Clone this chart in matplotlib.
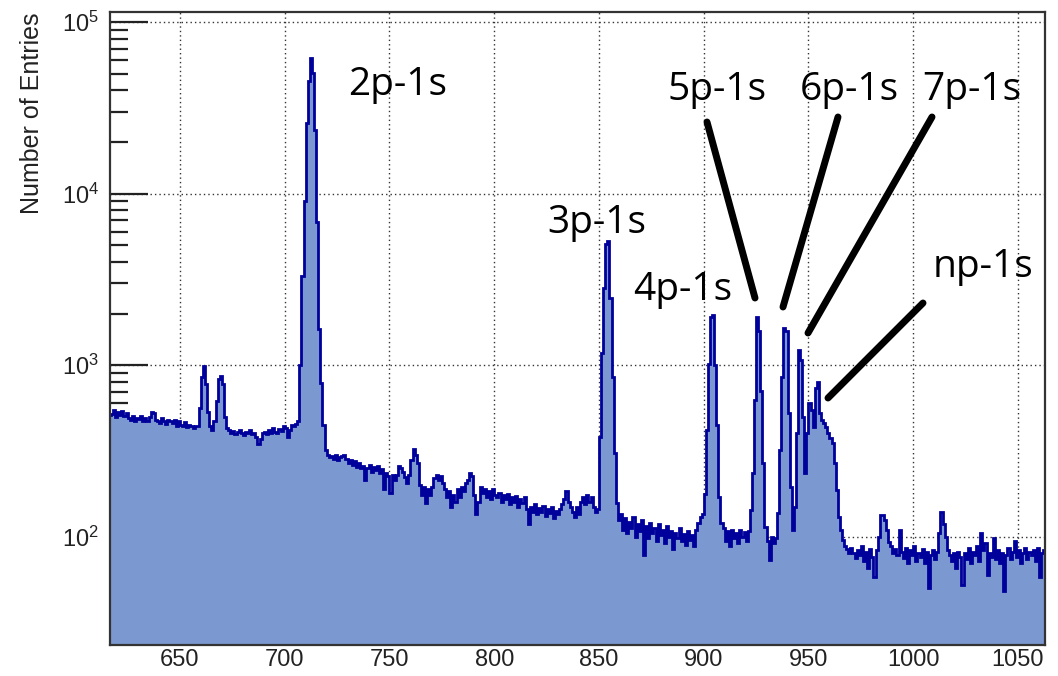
import numpy as np
import matplotlib
matplotlib.use("Agg")
import matplotlib.pyplot as plt
from matplotlib.ticker import LogLocator, MultipleLocator, NullFormatter

plt.rcParams['font.family'] = ['Liberation Sans', 'DejaVu Sans']
plt.rcParams['mathtext.fontset'] = 'custom'
plt.rcParams['mathtext.rm'] = 'Liberation Sans'
plt.rcParams['mathtext.it'] = 'Liberation Sans'
plt.rcParams['mathtext.default'] = 'regular'

# ---------------- data (1-unit bins, first bin starts at 616) ----------------
first_bin = 616

bg_low = [510,
          520, 545, 500, 530, 510, 540, 505, 525, 495,
          480, 505, 470, 495, 485, 505, 470, 490, 475, 500,
          530, 525, 480, 470, 460, 490, 470, 455, 480, 470,
          460, 480, 445, 470, 450, 440, 465, 435, 450, 440,
          430, 445, 440]                                   # 616-658
small_peaks = [560, 850, 995, 780, 530, 440, 420, 470, 620, 835,
               870, 780, 500, 430]                          # 659-672
bg_pre2p = [420, 400, 415, 395, 410, 420, 400, 390, 410, 400,
            420, 395, 405, 380, 345, 370, 400, 410, 395, 420,
            405, 430, 410, 400, 425, 415, 440, 430, 380, 420,
            450, 440, 455]                                  # 673-705
peak_2p = [470, 1000, 3300, 9100, 25800, 45600, 61500, 50400, 23500, 6800,
           1630, 785, 447, 320, 300, 290]                   # 706-721
bg_mid = [295, 285, 300, 280, 290,
          295, 300, 285,
          270, 280, 262, 275, 255, 270, 250,
          260, 215, 250, 262, 240, 255, 245, 258, 235, 248, 190,
          235, 225, 180, 230, 215, 228,
          258, 250, 240, 222, 205,
          230, 280, 325, 300, 270,
          200, 175, 195, 158, 190, 175, 195,
          220, 228, 215, 225, 205,
          190, 170, 185, 150, 175, 160, 190, 170,
          195, 185, 205, 215, 235, 225,
          175, 135, 160,
          195, 180, 190, 170, 185, 165, 190, 175,
          170, 180, 160, 175, 165, 178, 155, 170, 160, 172, 150, 165, 158, 170, 145,
          118, 150, 140, 155, 135, 148, 140, 152, 132, 145, 138, 150, 128, 142, 135, 145,
          155, 165, 185, 160, 150, 140,
          130, 150, 135, 160, 170, 155, 175, 160, 170, 150, 140, 145]  # 722-849
peak_3p = [380, 1170, 2820, 5100, 5300, 2470, 850, 306, 157, 125]  # 850-859
bg_post3p = [135, 110, 128, 105, 122, 112, 130, 100, 118, 108, 125,
             78, 115, 98, 120, 105, 112, 95, 118, 102, 110,
             92, 115, 100, 108, 85, 105, 98, 112, 95, 104,
             90, 108, 96, 102, 88, 110, 120]                # 860-897
peaks_np = [130, 135, 178, 417, 1020, 1900, 1950, 1000, 450, 170, 120,
            112, 95, 108, 88, 110, 98, 105, 92, 110, 100, 106, 95, 108,
            143, 234, 623, 1900, 1590, 710, 268, 114,
            95, 73, 100, 92, 98,
            137, 320, 850, 1650, 1590, 525, 195, 110,
            150, 400, 1220, 1065, 500, 234,
            400, 600, 545, 435, 740, 795, 525, 478, 460, 435, 400,
            375, 350, 268, 187, 130, 110, 96, 88, 85, 80, 86]  # 898-970
bg_high = [80, 75, 84, 78, 88, 72, 82, 66, 85, 76, 58, 84,
           100, 134, 134, 125, 110, 93, 88,
           80, 85, 78, 109, 82, 75, 86, 70, 84, 78, 88, 72, 80, 76, 85, 70, 82,
           50, 78, 84, 74, 82,
           105, 140, 118, 100, 84,
           78, 72, 80, 66, 82, 76, 52, 80, 74, 86, 70, 82, 78, 88, 72, 105,
           84, 92, 60, 80, 76, 98, 74, 84, 70, 80, 48, 78, 86, 74, 82, 95,
           76, 84, 70, 80, 86, 74, 82, 78, 84, 72, 86, 58, 80, 84]  # 971-1062

x_ticks = [650, 700, 750, 800, 850, 900, 950, 1000, 1050]
labels = ["2p-1s", "3p-1s", "4p-1s", "5p-1s", "6p-1s", "7p-1s", "np-1s"]

counts = np.array(bg_low + small_peaks + bg_pre2p + peak_2p + bg_mid +
                  peak_3p + bg_post3p + peaks_np + bg_high, dtype=float)
edges = np.arange(first_bin, first_bin + len(counts) + 1)

# ---------------- figure ----------------
W, H = 1058, 676
fig = plt.figure(figsize=(W / 100, H / 100), dpi=100)
L, R, T, B = 110, 1045, 12, 645
ax = fig.add_axes([L / W, (H - B) / H, (R - L) / W, (B - T) / H])

fill_c = '#7b99d0'
line_c = '#00009a'
ax.stairs(counts, edges, baseline=1, fill=True, color=fill_c, zorder=2)
ax.stairs(counts, edges, baseline=None, color=line_c, linewidth=2.0, zorder=3)

ax.set_yscale('log')
ax.set_xlim(616.6, 1062.9)
ax.set_ylim(23.4, 1.144e5)

ax.set_xticks(x_ticks)
ax.xaxis.set_minor_locator(MultipleLocator(10))
ax.yaxis.set_major_locator(LogLocator(base=10, numticks=10))
ax.yaxis.set_minor_locator(LogLocator(base=10, subs=np.arange(2, 10), numticks=20))
ax.yaxis.set_minor_formatter(NullFormatter())

ax.tick_params(axis='both', which='both', direction='in', top=False, right=False,
               colors='#222222', labelcolor='#222222', width=1.6)
ax.tick_params(axis='x', which='major', length=18, labelsize=17, pad=3)
ax.tick_params(axis='x', which='minor', length=9)
ax.tick_params(axis='y', which='major', length=27, labelsize=17, pad=8)
ax.tick_params(axis='y', which='minor', length=13)

ax.set_axisbelow(True)
ax.grid(True, which='major', linestyle=(0, (1, 2.2)), color='#333333', linewidth=1.0)
for sp in ax.spines.values():
    sp.set_linewidth(1.6)
    sp.set_color('#333333')
    sp.set_zorder(5)

fig.text(32 / W, 1 - 12 / H, 'Number of Entries', rotation=90, ha='center', va='top',
         fontsize=18, color='#222222')

def af(px, py):
    return ((px - L) / (R - L), (B - py) / (B - T))

text_pos = [(348, 95), (547, 233), (633, 300), (668, 100), (800, 100), (922, 100), (933, 277)]
for s, (px, py) in zip(labels, text_pos):
    ax.text(*af(px, py), s, transform=ax.transAxes, ha='left', va='baseline',
            fontsize=28, family=['Open Sans', 'DejaVu Sans'], color='black', zorder=6)

lines = [((707, 122), (755, 298)), ((838, 117), (783, 307)),
         ((932, 117), (808, 333)), ((923, 303), (828, 398))]
for p0, p1 in lines:
    a, b = af(*p0), af(*p1)
    ax.plot([a[0], b[0]], [a[1], b[1]], transform=ax.transAxes, color='black',
            linewidth=5, solid_capstyle='round', zorder=6, clip_on=False)

fig.savefig('out.png', dpi=100)
